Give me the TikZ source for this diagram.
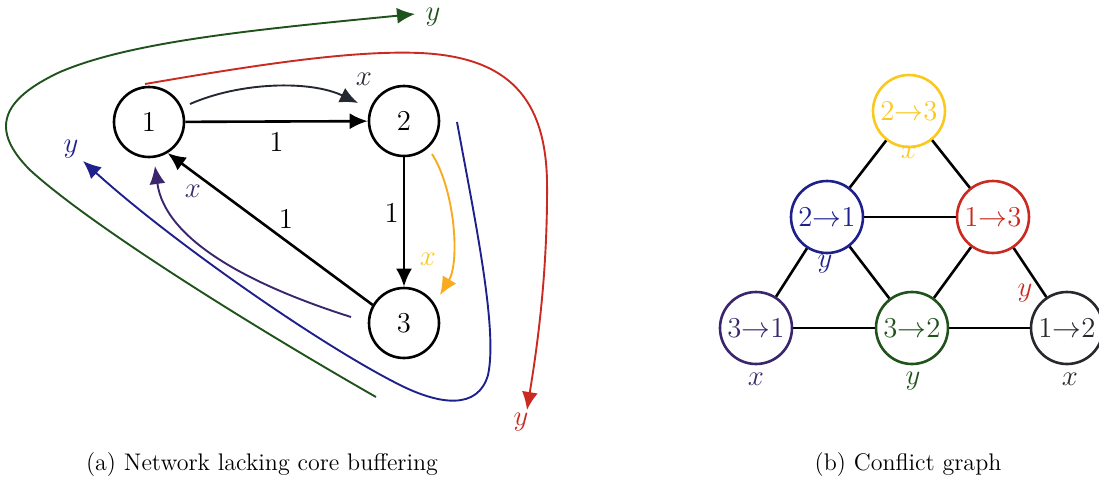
\documentclass[tikz,border=0pt]{standalone}
\usetikzlibrary{arrows.meta}
\definecolor{pathgreen}{RGB}{32,82,28}
\definecolor{pathred}{RGB}{202,42,32}
\definecolor{pathblue}{RGB}{30,32,140}
\definecolor{pathpurple}{RGB}{58,38,108}
\definecolor{pathorange}{RGB}{250,170,30}
\definecolor{pathyellow}{RGB}{250,200,30}
\definecolor{pathdark}{RGB}{36,40,50}
\definecolor{nodedark}{RGB}{40,40,46}
\tikzset{
  vert/.style={circle, draw, line width=1.3pt, minimum size=35pt, inner sep=0pt,
    font=\fontsize{14.4}{16}\selectfont},
  cvert/.style={circle, draw, line width=1.3pt, minimum size=36pt, inner sep=0pt,
    font=\fontsize{14.4}{16}\selectfont},
  link/.style={line width=1.3pt, -{Latex[length=9pt,width=8pt]}},
  route/.style={line width=0.95pt, -{Latex[length=9pt,width=8pt]}},
  lbl/.style={font=\fontsize{14.4}{16}\selectfont, inner sep=1pt},
  cedge/.style={line width=1.3pt},
  caption/.style={font=\fontsize{12}{14}\selectfont}
}
\begin{document}
\begin{tikzpicture}[x=0.5pt, y=-0.5pt]
\useasboundingbox (0,0) rectangle (1099,483);

% ---------- network ----------
\node[vert] (n1) at (149,122) {1};
\node[vert] (n2) at (404,121) {2};
\node[vert] (n3) at (404,323) {3};

\draw[link] (n1) -- node[lbl, below=4pt] (w12) {1} (n2);
\draw[link] (n2) -- node[lbl, left=1pt, pos=0.43] (w23) {1} (n3);
\draw[link] (n3.150) -- (n1.-59);
\node[lbl] (w31) at (286,219) {1};

% flow paths
\coordinate (kx0) at (190,104);
\coordinate (kx1) at (358,103);
\draw[route, pathdark] (kx0) .. controls (240,82) and (310,80) .. (kx1);
\node[lbl, pathdark] (kxl) at (364,79) {$x$};

\coordinate (ox0) at (432,154);
\coordinate (ox1) at (440,295);
\draw[route, pathorange] (ox0) .. controls (455,190) and (460,262) .. (ox1);
\node[lbl, pathyellow] (oxl) at (428,259) {$x$};

\coordinate (px0) at (351,317);
\coordinate (px1) at (155,166);
\draw[route, pathpurple] (px0) .. controls (250,285) and (165,240) .. (px1);
\node[lbl, pathpurple] (pxl) at (193,191) {$x$};

\coordinate (by0) at (457,122);
\coordinate (by1) at (83,161);
\draw[route, pathblue] (by0) .. controls (475,220) and (498,330) .. (488,375)
  .. controls (478,410) and (440,405) .. (400,385)
  .. controls (320,345) and (170,240) .. (by1);
\node[lbl, pathblue] (byl) at (71,149) {$y$};

\coordinate (ry0) at (145,84);
\coordinate (ry1) at (527,410);
\draw[route, pathred] (ry0) .. controls (250,66) and (350,50) .. (420,53)
  .. controls (510,57) and (545,100) .. (547,180)
  .. controls (548,280) and (535,360) .. (ry1);
\node[lbl, pathred] (ryl) at (521,422) {$y$};

\coordinate (gy0) at (376,397);
\coordinate (gy1) at (415,14);
\draw[route, pathgreen] (gy0) .. controls (250,325) and (90,225) .. (30,170)
  .. controls (-10,130) and (0,100) .. (60,72)
  .. controls (130,42) and (250,30) .. (gy1);
\node[lbl, pathgreen] (gyl) at (433,17) {$y$};

\node[caption] (capa) at (262,465) {(a) Network lacking core buffering};

% ---------- conflict graph ----------
\node[cvert, pathyellow] (c23) at (909,111) {2$\rightarrow$3};
\node[cvert, pathblue]   (c21) at (827,217) {2$\rightarrow$1};
\node[cvert, pathred]    (c13) at (993,217) {1$\rightarrow$3};
\node[cvert, pathpurple] (c31) at (756,328) {3$\rightarrow$1};
\node[cvert, pathgreen]  (c32) at (912,328) {3$\rightarrow$2};
\node[cvert, nodedark]   (c12) at (1067,328) {1$\rightarrow$2};

\draw[cedge] (c23) -- (c21);
\draw[cedge] (c23) -- (c13);
\draw[cedge] (c21) -- (c13);
\draw[cedge] (c21) -- (c31);
\draw[cedge] (c21) -- (c32);
\draw[cedge] (c13) -- (c32);
\draw[cedge] (c13) -- (c12);
\draw[cedge] (c31) -- (c32);
\draw[cedge] (c32) -- (c12);

\node[lbl, pathyellow] (l23) at (909,152) {$x$};
\node[lbl, pathblue]   (l21) at (825,264) {$y$};
\node[lbl, pathred]    (l13) at (1025,293) {$y$};
\node[lbl, pathpurple] (l31) at (756,379) {$x$};
\node[lbl, pathgreen]  (l32) at (913,381) {$y$};
\node[lbl, nodedark]   (l12) at (1070,379) {$x$};

\node[caption] (capb) at (908,465) {(b) Conflict graph};
\end{tikzpicture}
\end{document}
